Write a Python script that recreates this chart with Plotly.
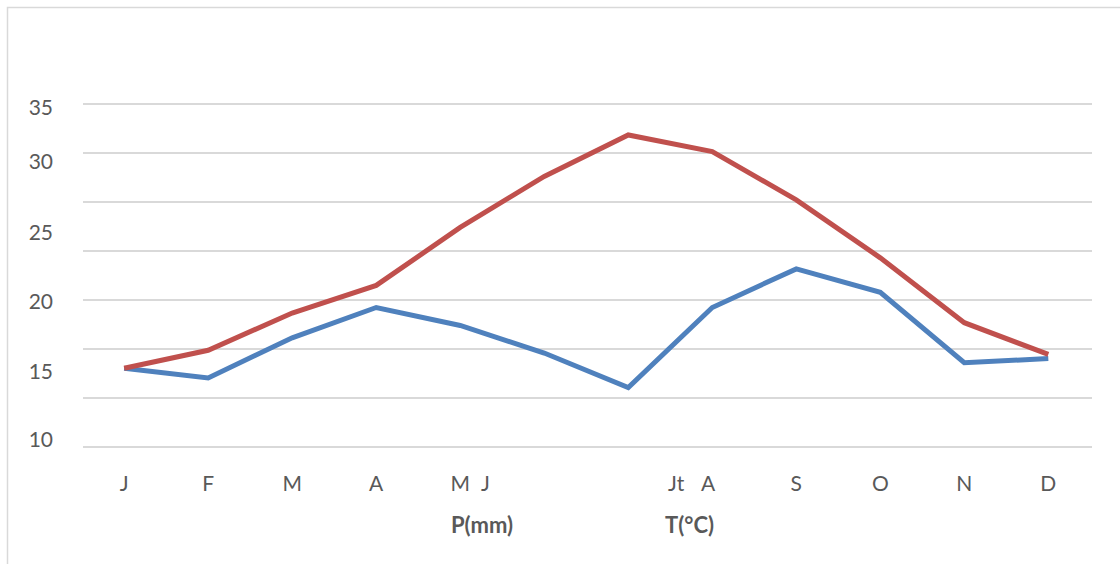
import plotly.graph_objects as go

# Data
months = ["J", "F", "M", "A", "M", "J", "Jt", "A", "S", "O", "N", "D"]
precip_mm = [15.2, 14.5, 17.4, 19.6, 18.3, 16.3, 13.8, 19.6, 22.4, 20.7, 15.6, 15.9]
temp_c = [15.2, 16.5, 19.2, 21.2, 25.4, 29.1, 32.1, 30.9, 27.4, 23.2, 18.5, 16.2]

x_tick_labels = ["J", "F", "M", "A", "M", "J", "Jt", "A", "S", "O", "N", "D"]
x_tick_pos = [0, 1, 2, 3, 4, 4.3, 6.57, 6.95, 8, 9, 10, 11]
y_tick_labels = ["10", "15", "20", "25", "30", "35"]
y_tick_pos = [10, 14.93, 20, 25, 30.14, 34.06]

series_names = ["P(mm)", "T(°C)"]

FONT = "Lato"
GRAY = "#595959"
BLUE = "#4F81BD"
RED = "#C0504D"

xs = list(range(len(months)))

fig = go.Figure()
fig.add_trace(go.Scatter(x=xs, y=precip_mm, mode="lines", name=series_names[0],
                         line=dict(color=BLUE, width=5), showlegend=False,
                         hovertext=months))
fig.add_trace(go.Scatter(x=xs, y=temp_c, mode="lines", name=series_names[1],
                         line=dict(color=RED, width=5), showlegend=False,
                         hovertext=months))
# invisible trace to carry the gridline axis
fig.add_trace(go.Scatter(x=[None], y=[None], yaxis="y2", showlegend=False,
                         hoverinfo="skip"))

W, H = 1120, 564
L, R, T, B = 83, 28, 90, 104
pw, ph = W - L - R, H - T - B


def px_x(p):
    return (p - L) / pw


def px_y(p):
    return (H - B - p) / ph


fig.update_layout(
    width=W, height=H,
    margin=dict(l=L, r=R, t=T, b=B),
    paper_bgcolor="white", plot_bgcolor="white",
    font=dict(family=FONT, size=21, color=GRAY),
    xaxis=dict(range=[-0.49, 11.52], tickvals=x_tick_pos, ticktext=x_tick_labels,
               showgrid=False, zeroline=False, showline=False, ticks="",
               ticklabelstandoff=9, tickfont=dict(size=21, color=GRAY)),
    yaxis=dict(range=[8.55, 35.36], tickvals=y_tick_pos, ticktext=y_tick_labels,
               showgrid=False, zeroline=False, showline=False, ticks="",
               ticklabelstandoff=29, tickfont=dict(size=21, color=GRAY)),
    yaxis2=dict(range=[-1.33, 36.43], dtick=5, tick0=0, overlaying="y", side="right",
                showgrid=True, gridcolor="#D9D9D9", gridwidth=1.5,
                showticklabels=False, zeroline=False, showline=False, ticks=""),
    showlegend=False,
)

# legend-like labels
for name, xp in zip(series_names, [482, 689]):
    fig.add_annotation(x=px_x(xp), y=px_y(524), xref="paper", yref="paper",
                       xanchor="center", yanchor="middle",
                       text="<b>" + name + "</b>", showarrow=False,
                       font=dict(family=FONT, size=22, color=GRAY))

# chart frame
fig.add_shape(type="rect", xref="paper", yref="paper",
              x0=px_x(7.5), x1=px_x(1130), y0=px_y(575), y1=px_y(7.5),
              line=dict(color="#D9D9D9", width=1.5), layer="below")

fig.write_html("out.html", config={"displayModeBar": False},
               post_script="document.body.style.margin='0';document.body.style.overflow='hidden';")
